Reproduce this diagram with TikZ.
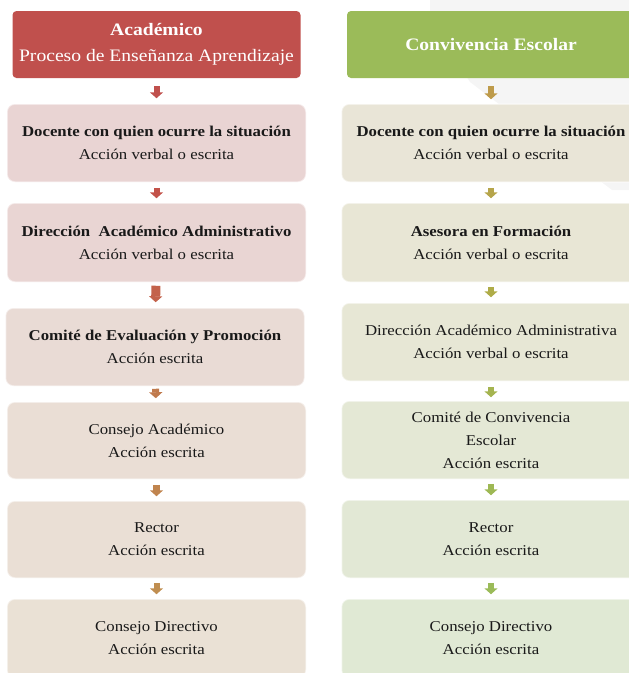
\documentclass[tikz,border=0pt]{standalone}
\usepackage{fontspec}
\setmainfont{Liberation Serif}[FakeStretch=1.12]
\usetikzlibrary{arrows.meta}

\definecolor{rojo}{RGB}{192,80,77}
\definecolor{verde}{RGB}{155,187,89}

\definecolor{acadA}{RGB}{233,212,211}
\definecolor{acadB}{RGB}{233,213,211}
\definecolor{acadC}{RGB}{233,219,213}
\definecolor{acadD}{RGB}{234,222,213}
\definecolor{acadE}{RGB}{234,223,213}
\definecolor{acadF}{RGB}{234,225,213}

\definecolor{convA}{RGB}{233,229,215}
\definecolor{convB}{RGB}{232,230,213}
\definecolor{convC}{RGB}{231,231,213}
\definecolor{convD}{RGB}{228,232,213}
\definecolor{convE}{RGB}{226,232,213}
\definecolor{convF}{RGB}{224,233,212}

\tikzset{
	caja/.style = {draw = white, draw opacity = 0.5, line width = 1.5pt, rounded corners = 8pt,
		minimum width = 299pt, align = center, text = black!90, font = \fontsize{15}{23}\selectfont},
	titulo/.style = {rounded corners = 4pt, minimum width = 288pt, minimum height = 67pt,
		align = center, text = white, font = \fontsize{17.5}{26}\selectfont},
	flecha/.style = {line width = 6pt, -{Triangle[width = 13pt, length = 6pt]}}
}

\begin{document}
\begin{tikzpicture}[x = 1pt, y = -1pt]

	\useasboundingbox (0, 0) rectangle (629, 673);
	\clip (0, 0) rectangle (629, 673);

	% fondo
	\fill [black!4] (430, 0) -- (629, 0) -- (629, 190) -- (612, 190) -- (470, 82) -- (430, 20) -- cycle;

	% columna academica
	\node [titulo, fill = rojo] (tituloA) at (156.5, 44.5) {\textbf{Académico}\\Proceso de Enseñanza Aprendizaje};
	\node [caja, fill = acadA, minimum height = 78pt] (acad1) at (156.5, 143) {\textbf{Docente con quien ocurre la situación}\\Acción verbal o escrita};
	\node [caja, fill = acadB, minimum height = 79pt] (acad2) at (156.5, 242.5) {\textbf{Dirección\ \ Académico Administrativo}\\Acción verbal o escrita};
	\node [caja, fill = acadC, minimum height = 78pt] (acad3) at (155, 347) {\textbf{Comité de Evaluación y Promoción}\\Acción escrita};
	\node [caja, fill = acadD, minimum height = 77pt] (acad4) at (156.5, 440.5) {Consejo Académico\\Acción escrita};
	\node [caja, fill = acadE, minimum height = 77pt] (acad5) at (156.5, 539.5) {Rector\\Acción escrita};
	\node [caja, fill = acadF, minimum height = 79pt] (acad6) at (156.5, 638.5) {Consejo Directivo\\Acción escrita};

	% columna convivencia
	\node [titulo, fill = verde, font = \bfseries\fontsize{17.5}{26}\selectfont] (tituloC) at (491, 44.5) {Convivencia Escolar};
	\node [caja, fill = convA, minimum height = 78pt] (conv1) at (491, 143) {\textbf{Docente con quien ocurre la situación}\\Acción verbal o escrita};
	\node [caja, fill = convB, minimum height = 79pt] (conv2) at (491, 242.5) {\textbf{Asesora en Formación}\\Acción verbal o escrita};
	\node [caja, fill = convC, minimum height = 78pt] (conv3) at (491, 342) {Dirección Académico Administrativa\\Acción verbal o escrita};
	\node [caja, fill = convD, minimum height = 78pt] (conv4) at (491, 440) {Comité de Convivencia\\Escolar\\Acción escrita};
	\node [caja, fill = convE, minimum height = 78pt] (conv5) at (491, 539) {Rector\\Acción escrita};
	\node [caja, fill = convF, minimum height = 79pt] (conv6) at (491, 638.5) {Consejo Directivo\\Acción escrita};

	\begin{scope}[flecha]

		\draw [rojo, shorten < = 8pt, shorten > = 5pt] (tituloA) -- (acad1);
		\draw [rojo!95!orange, shorten < = 5pt, shorten > = 4pt] (acad1) -- (acad2);
		\draw [color = {rgb,255:red,195;green,98;blue,75}, line width = 9pt, shorten < = 3pt, shorten > = 5pt] (acad2) -- (acad3);
		\draw [color = {rgb,255:red,192;green,122;blue,77}, line width = 7pt, shorten < = 2pt, shorten > = 3pt] (acad3) -- (acad4);
		\draw [color = {rgb,255:red,192;green,132;blue,78}, line width = 7pt, shorten < = 5pt, shorten > = 4pt] (acad4) -- (acad5);
		\draw [color = {rgb,255:red,192;green,142;blue,80}, shorten < = 4pt, shorten > = 4pt] (acad5) -- (acad6);

		\draw [color = {rgb,255:red,190;green,155;blue,75}, shorten < = 8pt, shorten > = 4pt] (tituloC) -- (conv1);
		\draw [color = {rgb,255:red,182;green,165;blue,75}, shorten < = 5pt, shorten > = 4pt] (conv1) -- (conv2);
		\draw [color = {rgb,255:red,175;green,172;blue,72}, shorten < = 4pt, shorten > = 5pt] (conv2) -- (conv3);
		\draw [color = {rgb,255:red,165;green,180;blue,80}, shorten < = 5pt, shorten > = 3pt] (conv3) -- (conv4);
		\draw [color = {rgb,255:red,158;green,184;blue,84}, shorten < = 4pt, shorten > = 4pt] (conv4) -- (conv5);
		\draw [verde, shorten < = 4pt, shorten > = 4pt] (conv5) -- (conv6);

	\end{scope}

\end{tikzpicture}
\end{document}
